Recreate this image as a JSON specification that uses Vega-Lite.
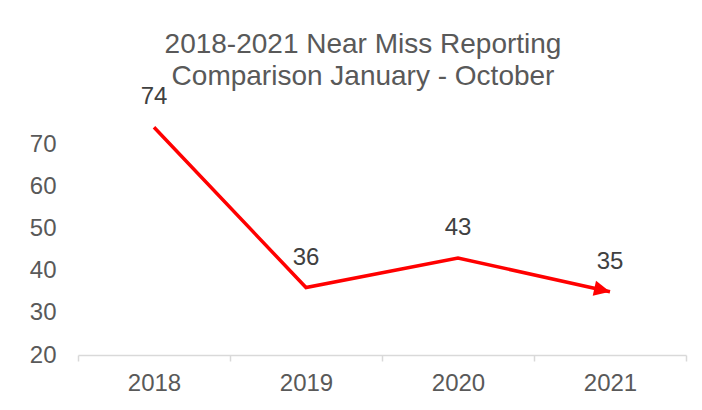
{
  "$schema": "https://vega.github.io/schema/vega-lite/v6.json",
  "width": 608,
  "height": 253,
  "autosize": {"type": "none"},
  "padding": {"left": 78, "top": 102, "right": 16, "bottom": 55},
  "background": "white",
  "config": {
    "view": {"stroke": null},
    "font": "Liberation Sans"
  },
  "title": {
    "text": ["2018-2021 Near Miss Reporting", "Comparison January - October"],
    "fontSize": 28,
    "fontWeight": "normal",
    "color": "#595959",
    "lineHeight": 32,
    "anchor": "middle",
    "frame": "group",
    "dx": -19,
    "dy": 45,
    "baseline": "alphabetic",
    "offset": 17
  },
  "data": {
    "values": [
      {"year": "2018", "count": 74},
      {"year": "2019", "count": 36},
      {"year": "2020", "count": 43},
      {"year": "2021", "count": 35}
    ]
  },
  "encoding": {
    "x": {
      "field": "year",
      "type": "ordinal",
      "scale": {"paddingInner": 0, "paddingOuter": 0},
      "axis": {
        "title": null,
        "labelAngle": 0,
        "labelFontSize": 24,
        "labelColor": "#595959",
        "labelPadding": 10,
        "domainColor": "#d9d9d9",
        "domainWidth": 1.5,
        "tickColor": "#d9d9d9",
        "tickWidth": 1.5,
        "tickSize": 6,
        "tickBand": "extent"
      }
    },
    "y": {
      "field": "count",
      "type": "quantitative",
      "scale": {"domain": [20, 80], "nice": false, "zero": false},
      "axis": {
        "title": null,
        "values": [20, 30, 40, 50, 60, 70],
        "domain": false,
        "ticks": false,
        "grid": false,
        "labelFontSize": 24,
        "labelColor": "#595959",
        "labelPadding": 22
      }
    }
  },
  "layer": [
    {
      "mark": {"type": "line", "color": "#ff0000", "strokeWidth": 3.5}
    },
    {
      "transform": [{"filter": "datum.year == '2021'"}],
      "mark": {
        "type": "point",
        "shape": "M0,0 L-2,-0.95 L-2,0.95 Z",
        "filled": true,
        "color": "#ff0000",
        "opacity": 1,
        "size": 256,
        "angle": 12.5
      }
    },
    {
      "mark": {
        "type": "text",
        "fontSize": 24,
        "color": "#404040",
        "baseline": "alphabetic",
        "dy": -23
      },
      "encoding": {"text": {"field": "count", "type": "quantitative"}}
    }
  ]
}
